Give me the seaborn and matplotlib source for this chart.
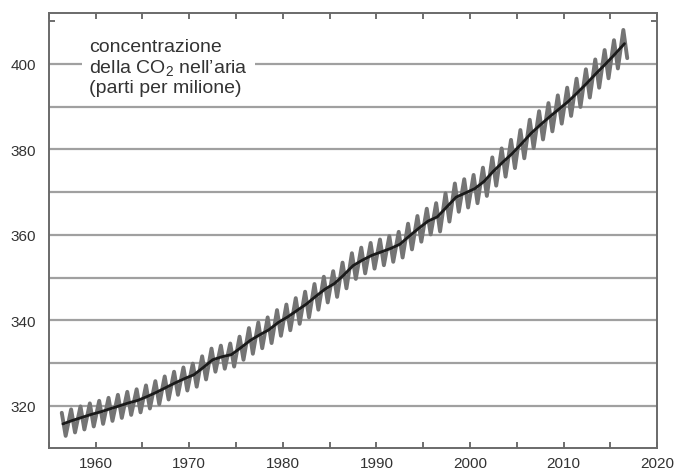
import numpy as np
import pandas as pd
import matplotlib
matplotlib.use("Agg")
import matplotlib.pyplot as plt
import seaborn as sns

# ---- data ----
years = list(range(1956, 2017))

trend = [315.8, 316.6, 317.3, 318.0, 318.6, 319.3, 320.0, 320.7, 321.3, 322.2,
         323.2, 324.3, 325.4, 326.4, 327.3, 329.0, 330.8, 331.5, 332.0, 333.6,
         335.3, 336.6, 337.8, 339.5, 340.8, 342.3, 343.8, 345.6, 347.3, 348.6,
         350.6, 352.8, 354.1, 355.2, 356.0, 356.8, 357.8, 359.7, 361.5, 363.2,
         364.2, 366.5, 368.8, 369.8, 370.8, 372.5, 374.9, 377.0, 379.0, 381.3,
         383.7, 385.7, 387.6, 389.4, 391.2, 393.3, 395.5, 397.8, 400.0, 402.3,
         404.7]

peaks = [318.4, 319.2, 319.9, 320.6, 321.2, 321.9, 322.6, 323.3, 323.9, 324.8,
         325.8, 326.9, 328.0, 329.0, 329.9, 331.6, 333.4, 334.1, 334.6, 336.2,
         338.2, 339.5, 340.7, 342.4, 343.7, 345.2, 346.7, 348.5, 350.2, 351.5,
         353.5, 355.7, 357.0, 358.1, 358.9, 359.7, 360.7, 362.6, 364.4, 366.1,
         367.4, 369.7, 372.0, 373.0, 374.0, 375.7, 378.1, 380.2, 382.2, 384.5,
         386.9, 388.9, 390.8, 392.6, 394.4, 396.5, 398.7, 401.0, 403.2, 405.5,
         407.9]

troughs = [313.0, 313.8, 314.5, 315.2, 315.8, 316.5, 317.2, 317.9, 318.5, 319.4,
           320.4, 321.5, 322.6, 323.6, 324.5, 326.2, 328.0, 328.7, 329.2, 330.8,
           332.2, 333.5, 334.7, 336.4, 337.7, 339.2, 340.7, 342.5, 344.2, 345.5,
           347.5, 349.7, 351.0, 352.1, 352.9, 353.7, 354.7, 356.6, 358.4, 360.1,
           360.8, 363.1, 365.4, 366.4, 367.4, 369.1, 371.5, 373.6, 375.6, 377.9,
           380.3, 382.3, 384.2, 386.0, 387.8, 389.9, 392.1, 394.4, 396.6, 398.9,
           401.3]

peak_month = 5      # seasonal maximum (May)
trough_month = 10   # seasonal minimum (October)

x_ticks = [1960, 1970, 1980, 1990, 2000, 2010, 2020]
y_ticks = [320, 340, 360, 380, 400]
grid_levels = [320, 330, 340, 350, 360, 370, 380, 390, 400]
label_text = "concentrazione\ndella CO$_2$ nell\u2019aria\n(parti per milione)"

# ---- tables ----
seasonal = pd.DataFrame({
    "t": [y + (peak_month - 0.5) / 12 for y in years] + [y + (trough_month - 0.5) / 12 for y in years],
    "ppm": peaks + troughs,
}).sort_values("t")
smooth = pd.DataFrame({"t": [y + 0.5 for y in years], "ppm": trend})

# ---- style ----
sns.set_style("white")
plt.rcParams["font.family"] = ["Liberation Sans", "DejaVu Sans"]
plt.rcParams["mathtext.fontset"] = "custom"
plt.rcParams["mathtext.rm"] = "Liberation Sans"
plt.rcParams["mathtext.default"] = "regular"

fig = plt.figure(figsize=(6.79, 4.77), dpi=100)
ax = fig.add_axes([0.072, 0.059, 0.896, 0.912])

for g in grid_levels:
    ax.axhline(g, color="#a0a0a0", lw=1.6, zorder=1)

sns.lineplot(data=seasonal, x="t", y="ppm", ax=ax, color="#747474", lw=2.8,
             estimator=None, sort=True, zorder=2)
sns.lineplot(data=smooth, x="t", y="ppm", ax=ax, color="#1a1a1a", lw=2.0,
             estimator=None, zorder=3)

ax.set_xlim(1955, 2020)
ax.set_ylim(310.2, 411.9)
ax.set_xticks(x_ticks)
ax.set_xticks([1955 + 5 * i for i in range(14)], minor=True)
ax.set_yticks(y_ticks)
ax.set_yticks([410], minor=True)
ax.set_xlabel("")
ax.set_ylabel("")

ax.tick_params(axis="x", which="both", direction="in", top=True, bottom=True,
               length=4, width=1.2, color="#555555", labelsize=11,
               labelcolor="#333333", pad=6)
ax.tick_params(axis="y", which="both", direction="in", left=True, right=True,
               length=4, width=1.2, color="#555555", labelsize=11,
               labelcolor="#333333", pad=9)

for s in ax.spines.values():
    s.set_color("#6a6a6a")
    s.set_linewidth(1.4)
    s.set_visible(True)

ax.text(0.066, 0.943, label_text, transform=ax.transAxes, ha="left", va="top",
        fontsize=14, color="#333333", linespacing=1.17, zorder=5,
        bbox=dict(facecolor="white", edgecolor="none", pad=5))

fig.savefig("out.png", dpi=100)
